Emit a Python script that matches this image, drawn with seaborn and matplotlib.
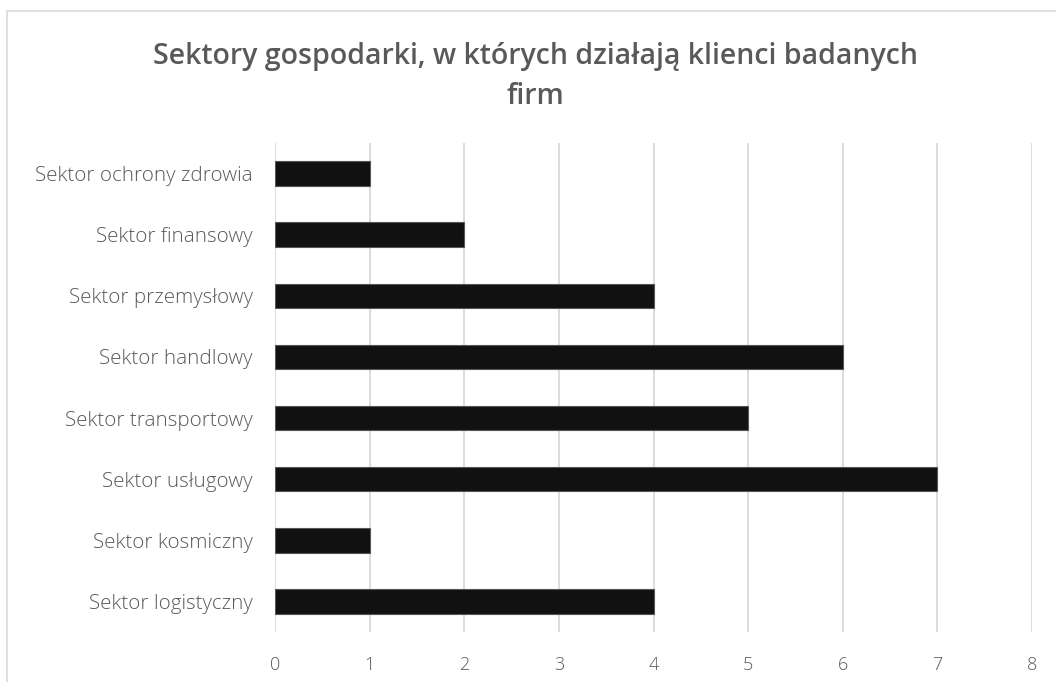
import matplotlib
matplotlib.use("Agg")
import matplotlib.pyplot as plt
import seaborn as sns
import pandas as pd
from matplotlib.patches import Rectangle

# data (top to bottom as shown)
sectors = [
    "Sektor ochrony zdrowia", "Sektor finansowy", "Sektor przemysłowy",
    "Sektor handlowy", "Sektor transportowy", "Sektor usługowy",
    "Sektor kosmiczny", "Sektor logistyczny",
]
counts = [1, 2, 4, 6, 5, 7, 1, 4]
x_ticks = [0, 1, 2, 3, 4, 5, 6, 7, 8]

df = pd.DataFrame({"sektor": sectors, "liczba": counts})

sns.set_theme(style="white")
plt.rcParams["font.family"] = ["Open Sans", "DejaVu Sans"]

text_col = "#595959"
grid_col = "#d9d9d9"

fig = plt.figure(figsize=(10.56, 6.82), dpi=100)
ax = fig.add_axes([0.2604, 0.0733, 0.7169, 0.717])

ax.set_axisbelow(True)
for t in x_ticks:
    ax.axvline(t, color=grid_col, lw=1.3, zorder=0)

sns.barplot(data=df, x="liczba", y="sektor", order=sectors, color="#111111",
            width=0.4, edgecolor="#555555", linewidth=0.8, saturation=1, ax=ax)

ax.set_xlim(0, 8)
ax.set_xticks(x_ticks)
ax.set_xlabel("")
ax.set_ylabel("")
ax.tick_params(axis="x", colors=text_col, labelsize=13, length=0, pad=17)
ax.tick_params(axis="y", colors=text_col, labelsize=14.8, length=0, pad=16)
for lbl in ax.get_yticklabels() + ax.get_xticklabels():
    lbl.set_fontweight("light")
for s in ax.spines.values():
    s.set_visible(False)

fig.text(0.507, 0.888, "Sektory gospodarki, w których działają klienci badanych\nfirm",
         ha="center", va="center", fontsize=20.5, fontweight="semibold", color=text_col,
         linespacing=1.5)

# chart border (top and left edges visible)
fig.patches.append(Rectangle((7 / 1056, -0.01), 1.1, 1 - 11 / 682 + 0.01,
                             transform=fig.transFigure, fill=False,
                             edgecolor="#d9d9d9", lw=1.2))

fig.savefig("out.png", dpi=100)
